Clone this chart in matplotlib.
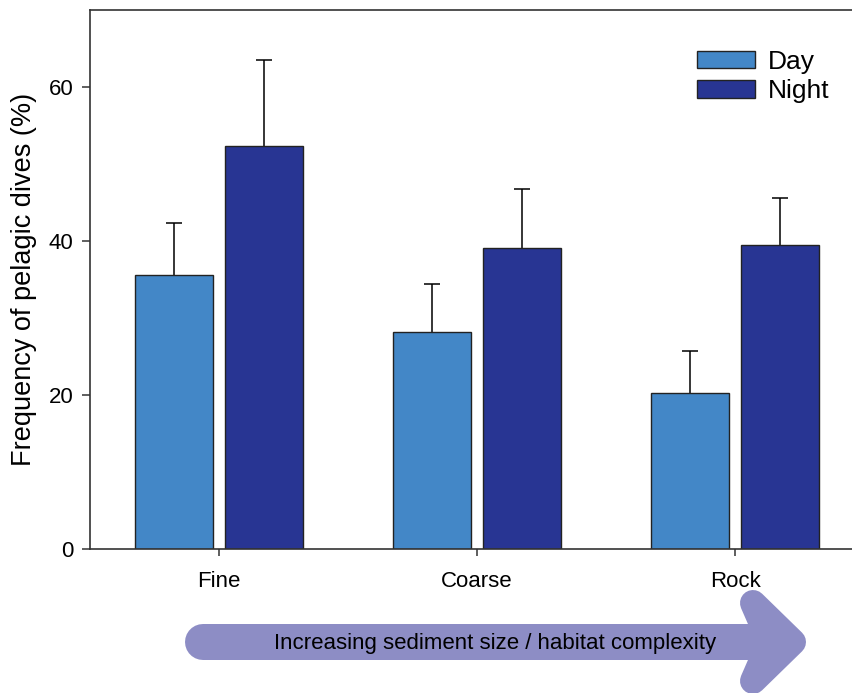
import numpy as np
import matplotlib
matplotlib.use("Agg")
import matplotlib.pyplot as plt
from matplotlib.patches import Polygon

plt.rcParams['font.family'] = ['Liberation Sans', 'DejaVu Sans']

# data
categories = ["Fine", "Coarse", "Rock"]
day_values = [35.6, 28.2, 20.2]
day_upper = [42.3, 34.4, 25.7]
night_values = [52.3, 39.1, 39.5]
night_upper = [63.5, 46.8, 45.6]
y_ticks = [0, 20, 40, 60]
arrow_text = "Increasing sediment size / habitat complexity"

day_color = "#4387c7"
night_color = "#283593"
arrow_color = "#8d8dc5"

W, H = 852, 693
fig = plt.figure(figsize=(W / 100, H / 100), dpi=100)

# axes: right edge runs past the figure like in the reference
ax = fig.add_axes([90 / W, (H - 549) / H, 774 / W, 539 / H])

x = np.arange(len(categories))
bar_w = 0.305
off = 0.175
day_err = np.array(day_upper) - np.array(day_values)
night_err = np.array(night_upper) - np.array(night_values)

ax.bar(x - off, day_values, bar_w, color=day_color, edgecolor="#222222",
       linewidth=1.0, label="Day", zorder=2)
ax.bar(x + off, night_values, bar_w, color=night_color, edgecolor="#222222",
       linewidth=1.0, label="Night", zorder=2)
for xs, vals, errs in [(x - off, day_values, day_err), (x + off, night_values, night_err)]:
    eb = ax.errorbar(xs, vals, yerr=[np.zeros(3), errs], fmt="none",
                     ecolor="black", elinewidth=1.1, capsize=6, capthick=1.1, zorder=1)
    eb[1][0].set_visible(False)  # no cap at the bar top

ax.set_xlim(-0.5, 2.5)
ax.set_ylim(0, 70)
ax.set_yticks(y_ticks)
ax.set_xticks(x)
ax.set_xticklabels(categories)
ax.tick_params(axis="both", direction="out", labelsize=16, color="#333333")
ax.tick_params(axis="y", length=6, width=1.1, pad=6)
ax.tick_params(axis="x", length=5, width=1.1, pad=11)
for side in ["left", "top", "bottom", "right"]:
    ax.spines[side].set_linewidth(1.2)
    ax.spines[side].set_color("#333333")

ax.set_ylabel("Frequency of pelagic dives (%)", fontsize=19.5, labelpad=8)

leg = ax.legend(loc="upper left", bbox_to_anchor=(697 / W, 1 - 50 / H),
                bbox_transform=fig.transFigure, frameon=False, fontsize=19,
                handlelength=2.2, handleheight=0.62, handletextpad=0.5,
                labelspacing=0.2, borderpad=0, borderaxespad=0)
for patch in leg.get_patches():
    patch.set_edgecolor("#222222")
    patch.set_linewidth(1.0)

# overlay in pixel coordinates for the arrow below the chart
over = fig.add_axes([0, 0, 1, 1])
over.set_xlim(0, W)
over.set_ylim(H, 0)
over.axis("off")
over.patch.set_alpha(0)
px = 0.72  # points per pixel at dpi 100
over.plot([203, 770], [642, 642], color=arrow_color, linewidth=36 * px,
          solid_capstyle="round", solid_joinstyle="round")
head = Polygon([[753, 603], [793, 642], [753, 681], [770, 642]], closed=True,
               facecolor=arrow_color, edgecolor=arrow_color,
               linewidth=26 * px, joinstyle="round")
over.add_patch(head)
over.text(495, 643, arrow_text, ha="center", va="center", fontsize=16)

fig.savefig("out.png", dpi=100)
